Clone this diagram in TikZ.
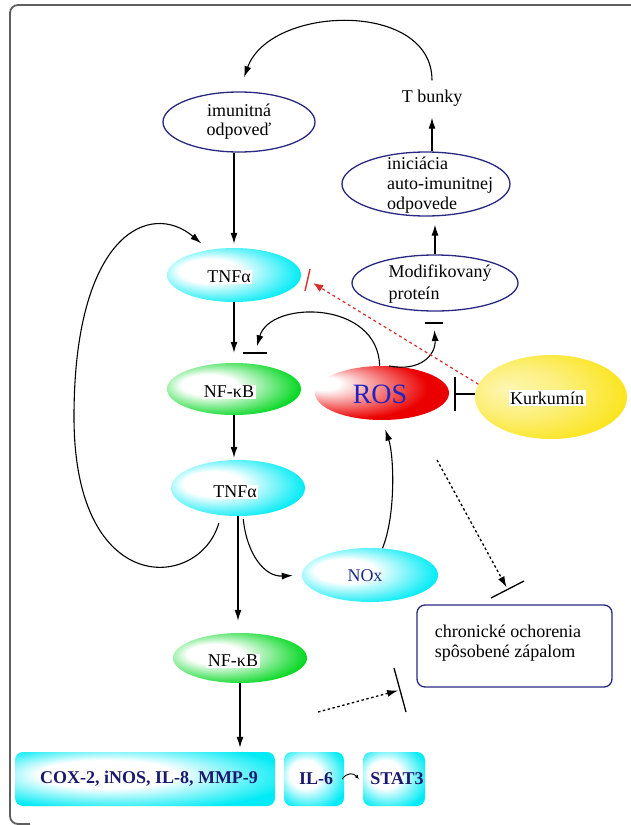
\documentclass[tikz,border=0pt]{standalone}
\usepackage{fontspec}
\setmainfont{Liberation Serif}
\usetikzlibrary{shapes.geometric,arrows.meta,calc}
\definecolor{navy}{RGB}{40,40,130}
\definecolor{darknavy}{RGB}{25,25,110}
\definecolor{rosblue}{RGB}{35,35,190}
\definecolor{noxblue}{RGB}{30,50,130}
\definecolor{mycyan}{RGB}{0,235,245}
\definecolor{mygreen}{RGB}{0,215,30}
\definecolor{myred}{RGB}{235,0,0}
\definecolor{myyellow}{RGB}{250,225,0}
\definecolor{dashred}{RGB}{215,45,45}
\definecolor{framec}{RGB}{95,95,95}
\pgfdeclareradialshading{cyanshade}{\pgfpoint{-12bp}{5bp}}{color(0bp)=(white); color(11bp)=(white); color(30bp)=(mycyan); color(50bp)=(mycyan)}
\pgfdeclareradialshading{greenshade}{\pgfpoint{-12bp}{5bp}}{color(0bp)=(white); color(10bp)=(white); color(30bp)=(mygreen); color(50bp)=(mygreen)}
\pgfdeclareradialshading{redshade}{\pgfpoint{-25bp}{10bp}}{color(0bp)=(white); color(6bp)=(white); color(28bp)=(myred); color(50bp)=(myred)}
\pgfdeclareradialshading{yellowshade}{\pgfpoint{-15bp}{5bp}}{color(0bp)=(myyellow!30!white); color(14bp)=(myyellow!50!white); color(36bp)=(myyellow); color(50bp)=(myyellow)}
\pgfdeclareradialshading{boxshade}{\pgfpoint{-10bp}{6bp}}{color(0bp)=(white); color(13bp)=(white); color(32bp)=(mycyan); color(50bp)=(mycyan)}
\begin{document}
\begin{tikzpicture}[x=1pt,y=-1pt,
  every node/.style={font=\fontsize{18}{20}\selectfont},
  ell/.style={ellipse, draw=navy, line width=1.3pt, inner sep=0pt},
  blob/.style={ellipse, inner sep=0pt},
  lab/.style={fill=white, inner sep=1.5pt},
  arr/.style={-{Latex[length=11pt,width=7pt]}, line width=1.1pt},
  barline/.style={line width=1.3pt},
  reddash/.style={draw=dashred, dash pattern=on 3pt off 3pt, line width=1.2pt, -{Latex[length=10pt,width=8pt,fill=dashred]}},
  dotarr/.style={dash pattern=on 2.5pt off 2.5pt, line width=1.3pt, -{Latex[length=11pt,width=7pt]}},
  cbox/.style={rectangle, rounded corners=8pt, shading=boxshade, inner sep=0pt},
  boxtxt/.style={font=\bfseries\fontsize{18}{20}\selectfont, text=darknavy}
]
\useasboundingbox (0,0) rectangle (630,825);
% frame
\draw[line width=1.8pt, draw=framec, rounded corners=8pt] (645,5) -- (10,5) -- (10,824) -- (30,824);

% nodes
\node (tb) at (432,98) {T bunky};
\node[ell, minimum width=152pt, minimum height=60pt] (imu) at (239,122) {};
\node[align=center, font=\fontsize{18}{19}\selectfont] (imut) at (imu) {imunitná\\odpoveď};
\node[ell, minimum width=168pt, minimum height=64pt] (ini) at (426,184) {};
\node[align=left] (init) at (440,185) {iniciácia\\auto-imunitnej\\odpovede};
\node[ell, minimum width=166pt, minimum height=56pt] (mod) at (435,283) {};
\node[align=left, font=\fontsize{18}{22}\selectfont] (modt) at (440,284) {Modifikovaný\\proteín};

\node[blob, shading=cyanshade, minimum width=134pt, minimum height=54pt] (tnf1) at (234,275) {};
\node[lab] (tnf1t) at (229,277) {TNFα};
\node[blob, shading=greenshade, minimum width=134pt, minimum height=52pt] (nfk1) at (234,389) {};
\node[lab] (nfk1t) at (229,392) {NF-κB};
\node[blob, shading=redshade, minimum width=134pt, minimum height=54pt] (ros) at (382,393) {};
\node[text=rosblue, font=\fontsize{28}{30}\selectfont] (rost) at (380,394) {ROS};
\node[blob, shading=yellowshade, minimum width=152pt, minimum height=84pt] (kurk) at (551,397) {};
\node[lab] (kurkt) at (547,398) {Kurkumín};
\node[blob, shading=cyanshade, minimum width=134pt, minimum height=56pt] (tnf2) at (238,488) {};
\node[lab] (tnf2t) at (235,492) {TNFα};
\node[blob, shading=cyanshade, minimum width=136pt, minimum height=54pt] (nox) at (370,575) {};
\node[text=noxblue] (noxt) at (365,576) {NOx};
\node[blob, shading=greenshade, minimum width=134pt, minimum height=50pt] (nfk2) at (240,658) {};
\node[lab] (nfk2t) at (233,661) {NF-κB};
\node[draw=navy, rounded corners=8pt, line width=1.3pt, minimum width=195pt, minimum height=82pt, inner sep=0pt] (chr) at (514.5,646) {};
\node[align=left] (chrt) at (508,643) {chronické ochorenia\\spôsobené zápalom};

\node[cbox, minimum width=260pt, minimum height=54pt] (cox) at (145,779) {};
\node[boxtxt] (coxt) at (149,779) {COX-2, iNOS, IL-8, MMP-9};
\node[cbox, minimum width=60pt, minimum height=54pt] (il6) at (314,779) {};
\node[boxtxt] (il6t) at (316,779) {IL-6};
\node[cbox, minimum width=62pt, minimum height=54pt] (stat) at (394,779) {};
\node[boxtxt] (statt) at (397,779) {STAT3};

% coordinates for free ends
\coordinate (nfkbar) at (255,353);
\coordinate (modbar) at (434,323);
\coordinate (rosbar) at (455,394);
\coordinate (tnfbar) at (308,280);
\coordinate (dots1) at (437,460);
\coordinate (chrbar) at (508,590);
\coordinate (dots2) at (318,712);
\coordinate (bar2) at (400,690);

% connectors
\draw[arr, shorten <=6pt, shorten >=15pt] (tb.north) .. controls (432,0) and (270,5) .. (imu.north);
\draw[arr, shorten >=4pt] (tnf1.north |- imu.south) -- (tnf1.north);
\draw[arr, shorten >=8pt] (ini.north -| tb.south) -- (tb.south);
\draw[arr, shorten >=8pt] (mod.north) -- (mod.north |- ini.south);
\draw[arr, shorten >=10pt] (tnf1.south) -- (nfk1.north);
\draw[arr, shorten >=2pt] (nfk1.south) -- (nfk1.south |- tnf2.north);
\draw[arr, shorten >=12pt] (tnf2.south) -- (tnf2.south |- nfk2.north);
\draw[arr, shorten >=4pt] (nfk2.south) -- (nfk2.south |- cox.north);
\draw[arr, shorten <=8pt, shorten >=10pt] (tnf2.238) .. controls (200,590) and (74,600) .. (74,417) .. controls (74,234) and (150,200) .. (tnf1.135);
\draw[arr, shorten >=7pt] (ros.95) .. controls (378,300) and (270,300) .. (nfkbar);
\draw[barline] ($(nfkbar)+(-12,0)$) -- ($(nfkbar)+(12,0)$);
\draw[arr, shorten >=7pt] (ros.75) .. controls (420,372) and (436,355) .. (modbar);
\draw[barline] ($(modbar)+(-9,0)$) -- ($(modbar)+(9,0)$);
\draw[line width=1.1pt] (kurk.west |- rosbar) -- (rosbar);
\draw[barline] ($(rosbar)+(0,-17)$) -- ($(rosbar)+(0,17)$);
\draw[reddash, shorten >=6pt] (kurk.170) -- (tnfbar);
\draw[line width=1.4pt, dashred] (310,269) -- (305,291);
\draw[arr, shorten <=3pt, shorten >=9pt] (tnf2.280) .. controls (247,555) and (265,577) .. (nox.west);
\draw[arr, shorten >=10pt] (nox.65) .. controls (396,515) and (394,455) .. (ros.south);
\draw[dotarr, shorten >=3pt] (dots1) -- (chrbar);
\draw[barline] (491,598) -- (524,581);
\draw[dotarr, shorten >=2pt] (dots2) -- (bar2);
\draw[barline] (394,668) -- (406,712);
\draw[-{Latex[length=4pt,width=4pt]}, line width=0.9pt] ([xshift=-2pt]il6.east) .. controls +(5,-7) and +(-5,-6) .. ([xshift=-4pt]stat.west);
\end{tikzpicture}
\end{document}
